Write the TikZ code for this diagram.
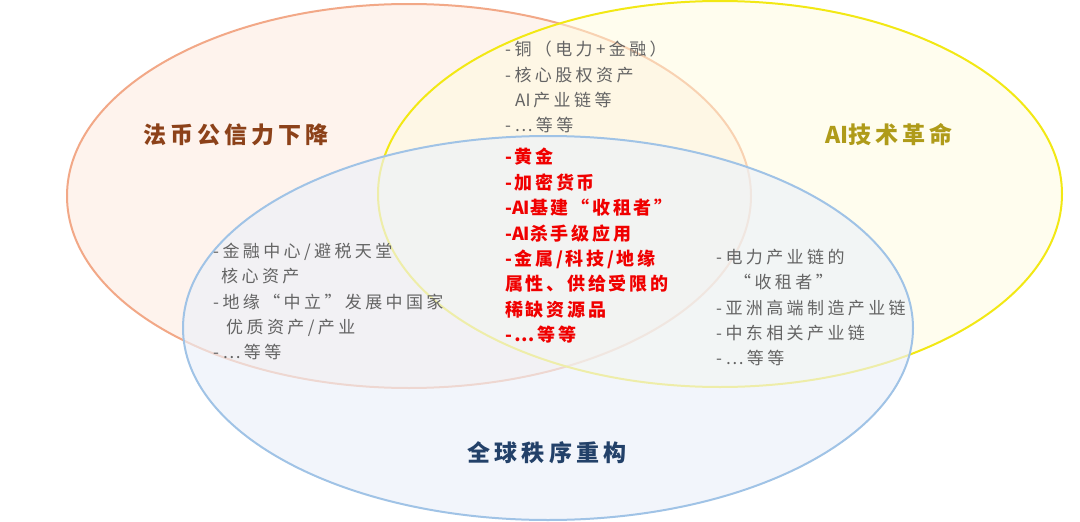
\documentclass[tikz,border=0pt]{standalone}
\usepackage{fontspec}
\newfontfamily\cjkgray[LetterSpace=20]{Noto Sans CJK SC}
\newfontfamily\cjkplain{Noto Sans CJK SC}
\newfontfamily\cjkred[LetterSpace=15]{Noto Sans CJK SC}
\newfontfamily\cjktitle[LetterSpace=18]{Noto Sans CJK SC}
\newcommand{\latAI}{{\cjkplain AI}}
\definecolor{orangeline}{RGB}{242,168,135}
\definecolor{orangefill}{RGB}{254,243,237}
\definecolor{yellowline}{RGB}{242,232,20}
\definecolor{yellowfill}{RGB}{255,252,222}
\definecolor{blueline}{RGB}{160,195,230}
\definecolor{bluefill}{RGB}{236,241,249}
\definecolor{graytext}{RGB}{100,100,100}
\definecolor{redtext}{RGB}{240,0,0}
\definecolor{browntitle}{RGB}{140,65,25}
\definecolor{olivetitle}{RGB}{175,155,25}
\definecolor{navytitle}{RGB}{35,65,105}
\tikzset{
  ring/.style={line width=2pt},
  graylist/.style={anchor=north west, inner sep=0pt, align=left, text=graytext,
    font=\cjkgray\fontsize{17pt}{25.3pt}\selectfont},
  redlist/.style={anchor=north west, inner sep=0pt, align=left, text=redtext,
    font=\cjkred\bfseries\fontsize{18pt}{25.4pt}\selectfont},
  titletext/.style={inner sep=0pt, font=\cjktitle\bfseries\fontsize{23pt}{28pt}\selectfont}
}
\begin{document}
\begin{tikzpicture}[x=1pt,y=-1pt]
\useasboundingbox[fill=white] (0,0) rectangle (1080,522);
% orange ellipse
\fill[orangefill] (409,196) ellipse [x radius=342pt, y radius=192pt];
\draw[ring, orangeline] (409,196) ellipse [x radius=342pt, y radius=192pt];
% yellow ellipse
\fill[yellowfill, fill opacity=0.5] (720,194) ellipse [x radius=342pt, y radius=193pt];
\draw[ring, yellowline] (720,194) ellipse [x radius=342pt, y radius=193pt];
% blue ellipse
\fill[bluefill, fill opacity=0.65] (548,328) ellipse [x radius=365pt, y radius=192pt];
\draw[ring, blueline] (548,328) ellipse [x radius=365pt, y radius=192pt];
% titles
\node[titletext, text=browntitle] (t1) at (236,135) {法币公信力下降};
\node[titletext, text=olivetitle] (t2) at (889,135) {{\cjkplain\bfseries AI}技术革命};
\node[titletext, text=navytitle] (t3) at (547,453) {全球秩序重构};
% lists
\node[graylist] (top) at (505,41) {-铜（电力+金融）\\-核心股权资产\\\hspace*{10pt}\latAI\,产业链等\\-…等等};
\node[redlist] (mid) at (505,148) {-黄金\\-加密货币\\-{\cjkplain\bfseries AI}基建“收租者”\\-{\cjkplain\bfseries AI}杀手级应用\\-金属/科技/地缘\\属性、供给受限的\\稀缺资源品\\-…等等};
\node[graylist] (left) at (213,243) {-金融中心/避税天堂\\\hspace*{8pt}核心资产\\-地缘“中立”发展中国家\\\hspace*{13pt}优质资产/产业\\-…等等};
\node[graylist] (right) at (716,249) {-电力产业链的\\\hspace*{18pt}“收租者”\\-亚洲高端制造产业链\\-中东相关产业链\\-…等等};
\end{tikzpicture}
\end{document}
